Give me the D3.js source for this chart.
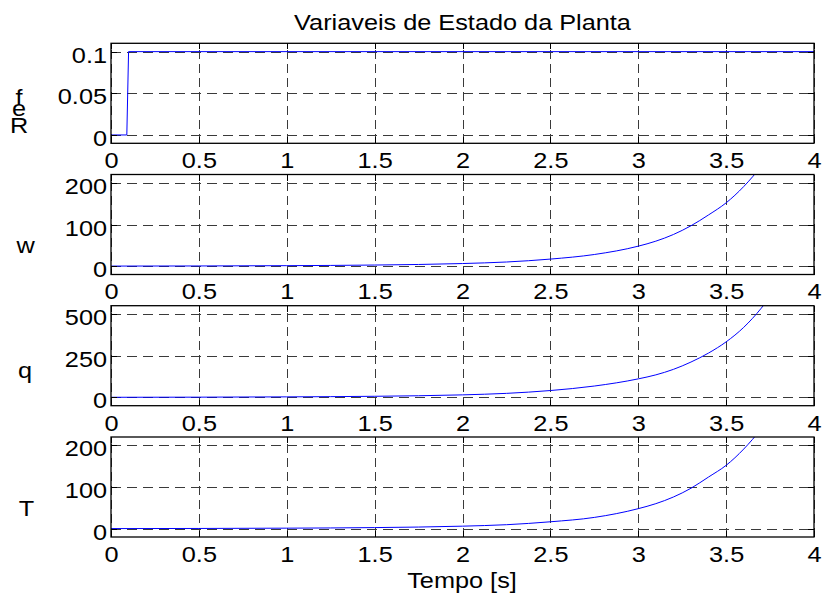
<!DOCTYPE html>
<html>
<head>
<meta charset="utf-8">
<script src="https://cdn.jsdelivr.net/npm/d3@7"></script>
<style>
  html, body { margin: 0; padding: 0; background: #fff; }
  svg { display: block; }
  text { font-family: "Liberation Sans", Arial, sans-serif; fill: #000; }
</style>
</head>
<body>
<svg id="chart" width="823" height="594"></svg>
<script>
// Time axis
const xTicks = [0, 0.5, 1, 1.5, 2, 2.5, 3, 3.5, 4];
const xTickLabels = ["0", "0.5", "1", "1.5", "2", "2.5", "3", "3.5", "4"];

// Reference signal (step at t ~ 0.1 s)
const tRef = [0, 0.09, 0.1, 4];
const feR = [0, 0, 0.1, 0.1];

// Sample times for the state variables
const tState = [0, 0.5, 1, 1.5, 2, 2.25, 2.5, 2.75, 3, 3.1, 3.2, 3.3, 3.4, 3.5, 3.6, 3.7, 3.8];
const wVals = [0.2, 0.5, 1.2, 2.7, 6.3, 10, 17, 28, 48, 60, 76, 97, 123, 152, 191, 240, 300];
const qVals = [0.5, 1.2, 3, 6.5, 15, 24, 41, 68, 111, 135, 168, 212, 266, 333, 420, 535, 680];
const TVals = [0.2, 0.5, 1.2, 2.6, 6, 9.5, 16.5, 27, 48, 60, 76, 97, 124, 152, 191, 240, 300];

// Y ticks per panel
const yTicks1 = [0, 0.05, 0.1];
const yTickLabels1 = ["0", "0.05", "0.1"];
const yTicks2 = [0, 100, 200];
const yTicks3 = [0, 250, 500];
const yTicks4 = [0, 100, 200];

const title = "Variaveis de Estado da Planta";
const xLabel = "Tempo [s]";

const svg = d3.select("#chart");
const SX = 1.15;          // horizontal text stretch
const FS = 22;            // font size
const left = 111, right = 814;
const panelH = 100;

const x = d3.scaleLinear().domain([0, 4]).range([left, right]);

// ylab: list of [letter, baseline]; several letters are stacked in one text element
const panels = [
  { top: 43.3, domain: [-0.01, 0.11], ticks: yTicks1, labels: yTickLabels1,
    t: tRef, v: feR, curve: d3.curveLinear,
    ylab: [["f", 105], ["e", 116], ["R", 133.5]], ylabX: 19 },
  { top: 174.5, domain: [-20, 220], ticks: yTicks2, labels: yTicks2.map(String),
    t: tState, v: wVals, curve: d3.curveMonotoneX, ylab: [["w", 253.3]], ylabX: 25.5 },
  { top: 305.7, domain: [-50, 550], ticks: yTicks3, labels: yTicks3.map(String),
    t: tState, v: qVals, curve: d3.curveMonotoneX, ylab: [["q", 378.3]], ylabX: 25 },
  { top: 437, domain: [-20, 220], ticks: yTicks4, labels: yTicks4.map(String),
    t: tState, v: TVals, curve: d3.curveMonotoneX, ylab: [["T", 515.7]], ylabX: 26.5 }
];

function stretchText(sel) {
  sel.style("font-size", FS + "px")
     .attr("transform", `scale(${SX},1)`);
}

function label(str, cx, baseline) {
  svg.append("g")
    .attr("transform", `translate(${cx},${baseline}) scale(${SX},1)`)
    .append("text")
    .attr("text-anchor", "middle")
    .style("font-size", FS + "px")
    .text(str);
}

// Stacked label: one text element, one tspan per letter
function stackedLabel(parts, cx) {
  const base = parts[0][1];
  const t = svg.append("g")
    .attr("transform", `translate(${cx},${base}) scale(${SX},1)`)
    .append("text")
    .attr("text-anchor", "middle")
    .style("font-size", FS + "px");
  parts.forEach(([s, b]) => {
    t.append("tspan").attr("x", 0).attr("y", b - base).text(s);
  });
}

panels.forEach((p, i) => {
  const top = p.top, bottom = top + panelH;
  const y = d3.scaleLinear().domain(p.domain).range([bottom, top]);
  const g = svg.append("g");

  const clipId = "clip" + i;
  svg.append("clipPath").attr("id", clipId)
    .append("rect").attr("x", left).attr("y", top)
    .attr("width", right - left).attr("height", panelH);

  // Dashed grid
  const gx = g.append("g").attr("transform", `translate(0,${bottom})`)
    .call(d3.axisBottom(x).tickValues(xTicks).tickSize(-panelH).tickFormat(""));
  gx.select(".domain").remove();
  gx.selectAll("line").attr("stroke", "#3a3a3a").attr("stroke-width", 1)
    .attr("stroke-dasharray", "9,5").attr("shape-rendering", "crispEdges");

  const gy = g.append("g").attr("transform", `translate(${left},0)`)
    .call(d3.axisLeft(y).tickValues(p.ticks).tickSize(-(right - left)).tickFormat(""));
  gy.select(".domain").remove();
  gy.selectAll("line").attr("stroke", "#3a3a3a").attr("stroke-width", 1)
    .attr("stroke-dasharray", "10,6").attr("shape-rendering", "crispEdges");

  // Data line
  const line = d3.line().curve(p.curve).x((d, k) => x(p.t[k])).y(d => y(d));
  g.append("path")
    .datum(p.v)
    .attr("clip-path", `url(#${clipId})`)
    .attr("fill", "none")
    .attr("stroke", "#0000ff")
    .attr("stroke-width", 1)
    .attr("d", line);

  // Inward ticks on all four sides
  const tickLen = 6;
  const axes = [
    g.append("g").attr("transform", `translate(0,${bottom})`)
      .call(d3.axisBottom(x).tickValues(xTicks).tickSize(-tickLen).tickFormat("")),
    g.append("g").attr("transform", `translate(0,${top})`)
      .call(d3.axisTop(x).tickValues(xTicks).tickSize(-tickLen).tickFormat("")),
    g.append("g").attr("transform", `translate(${left},0)`)
      .call(d3.axisLeft(y).tickValues(p.ticks).tickSize(-tickLen).tickFormat("")),
    g.append("g").attr("transform", `translate(${right},0)`)
      .call(d3.axisRight(y).tickValues(p.ticks).tickSize(-tickLen).tickFormat(""))
  ];
  axes.forEach(a => {
    a.select(".domain").remove();
    a.selectAll("line").attr("stroke", "#000").attr("stroke-width", 1)
      .attr("shape-rendering", "crispEdges");
  });

  // Frame
  g.append("rect")
    .attr("x", left).attr("y", top)
    .attr("width", right - left).attr("height", panelH)
    .attr("fill", "none").attr("stroke", "#000").attr("stroke-width", 1.3);

  // Tick labels
  const lx = g.append("g").attr("transform", `translate(0,${bottom})`)
    .call(d3.axisBottom(x).tickValues(xTicks).tickSize(0)
      .tickFormat((d, k) => xTickLabels[k]));
  lx.select(".domain").remove();
  lx.selectAll("text").attr("y", 25).attr("dy", 0).call(stretchText);

  const ly = g.append("g").attr("transform", `translate(${left},0)`)
    .call(d3.axisLeft(y).tickValues(p.ticks).tickSize(0)
      .tickFormat((d, k) => p.labels[k]));
  ly.select(".domain").remove();
  ly.selectAll("text").attr("x", -4 / SX).attr("y", 10.5).attr("dy", 0).call(stretchText);

  // Y label
  if (p.ylab.length > 1) stackedLabel(p.ylab, p.ylabX);
  else label(p.ylab[0][0], p.ylabX, p.ylab[0][1]);
});

label(title, 462.5, 29.5);
label(xLabel, 462, 588.3);
</script>
</body>
</html>
